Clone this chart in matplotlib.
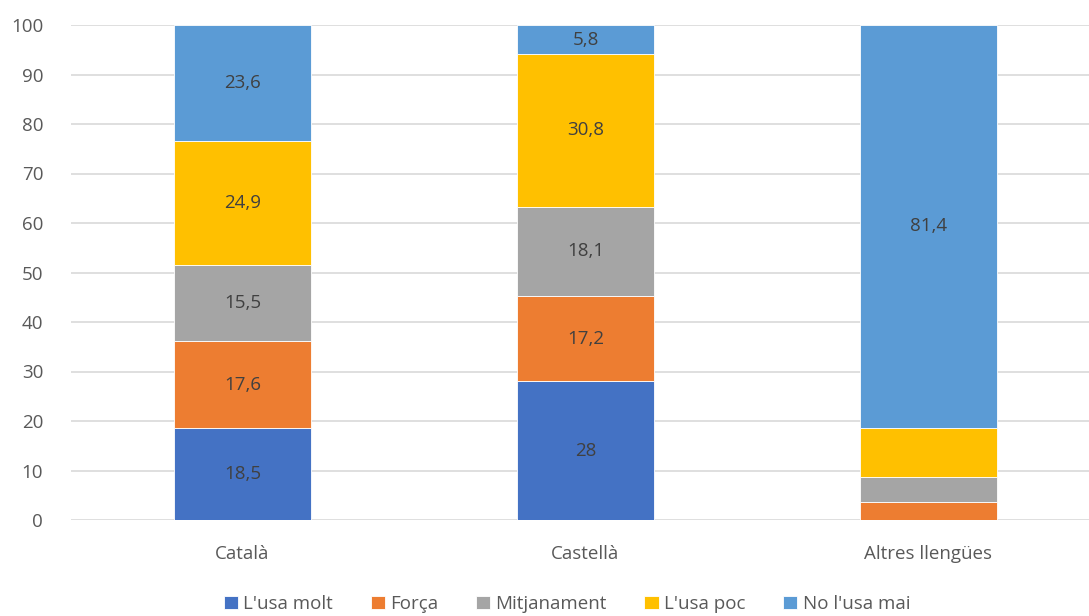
import matplotlib.pyplot as plt
import numpy as np

plt.rcParams['font.family'] = ['Open Sans', 'DejaVu Sans']

categories = ["Català", "Castellà", "Altres llengües"]
series = ["L'usa molt", "Força", "Mitjanament", "L'usa poc", "No l'usa mai"]
colors = ["#4472C4", "#ED7D31", "#A5A5A5", "#FFC000", "#5B9BD5"]

usa_molt = [18.5, 28.0, 0.1]
forca = [17.6, 17.2, 3.6]
mitjanament = [15.5, 18.1, 5.0]
usa_poc = [24.9, 30.8, 9.9]
no_usa_mai = [23.6, 5.8, 81.4]
values = [usa_molt, forca, mitjanament, usa_poc, no_usa_mai]

# which segments get a value label (per series, per column)
show_label = [
    [True, True, False],
    [True, True, False],
    [True, True, False],
    [True, True, False],
    [True, True, True],
]

fig = plt.figure(figsize=(10.89, 6.16), dpi=100)
ax = fig.add_axes([71 / 1089, (616 - 520) / 616, 1029 / 1089, 495 / 616])

x = np.arange(len(categories))
bottom = np.zeros(len(categories))
for name, vals, col, flags in zip(series, values, colors, show_label):
    bars = ax.bar(x, vals, 0.4, bottom=bottom, color=col, label=name,
                  edgecolor="white", linewidth=0.6, zorder=2)
    for i, b in enumerate(bars):
        if flags[i]:
            ax.text(b.get_x() + b.get_width() / 2, bottom[i] + vals[i] / 2,
                    f"{vals[i]:g}".replace(".", ","), ha="center", va="center",
                    fontsize=13.5, color="#404040", zorder=3)
    bottom += np.array(vals)

ax.set_xlim(-0.5, 2.5)
ax.set_ylim(0, 100)
ax.set_yticks(range(0, 101, 10))
ax.grid(axis="y", color="#D9D9D9", linewidth=1.2, zorder=0)
ax.set_axisbelow(True)
for s in ax.spines.values():
    s.set_visible(False)
ax.tick_params(length=0, labelsize=13.5, labelcolor="#595959")
ax.tick_params(axis="y", pad=20)
ax.tick_params(axis="x", pad=18)
ax.set_xticks(x)
ax.set_xticklabels(categories)

fig.legend(loc="center", bbox_to_anchor=(567 / 1089, 1 - 604 / 616), ncol=5,
           frameon=False, fontsize=13.5, handlelength=0.75, handleheight=0.75,
           handletextpad=0.3, columnspacing=2.0, labelcolor="#595959")

fig.savefig("out.png", dpi=100)
